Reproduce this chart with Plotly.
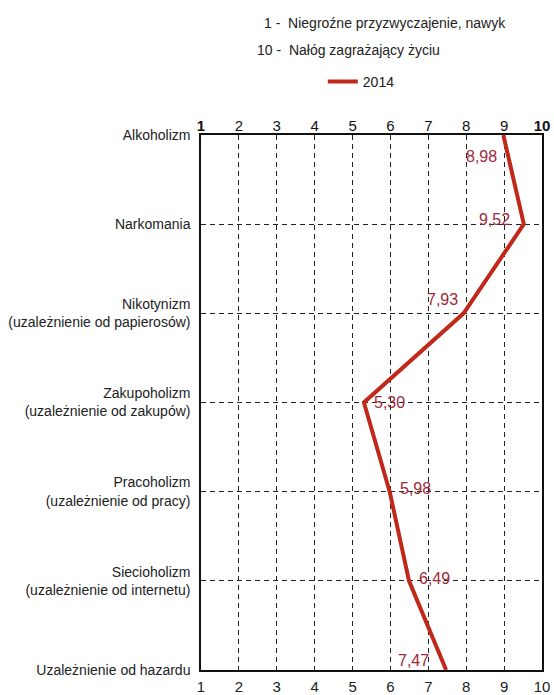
import plotly.graph_objects as go

categories = [
    "Alkoholizm",
    "Narkomania",
    "Nikotynizm<br>(uzależnienie od papierosów)",
    "Zakupoholizm<br>(uzależnienie od zakupów)",
    "Pracoholizm<br>(uzależnienie od pracy)",
    "Siecioholizm<br>(uzależnienie od internetu)",
    "Uzależnienie od hazardu",
]
values_2014 = [8.98, 9.52, 7.93, 5.30, 5.98, 6.49, 7.47]
value_labels = ["8,98", "9,52", "7,93", "5,30", "5,98", "6,49", "7,47"]
x_ticks = [1, 2, 3, 4, 5, 6, 7, 8, 9, 10]
x_ticktext_top = ["<b>1</b>", "2", "3", "4", "5", "6", "7", "8", "9", "<b>10</b>"]
series_name = "2014"
header_lines = ["1 -  Niegroźne przyzwyczajenie, nawyk", "10 -  Nałóg zagrażający życiu"]

# label offsets in pixels (dx, dy with dy positive = down)
label_offsets = [(-22, 21), (-29, -5), (-21, -14), (26, 0), (26, -3), (25, -2), (-33, -10)]

FONT = "Liberation Sans, Arial, sans-serif"
LINE_COLOR = "#c0281a"
LABEL_COLOR = "#9b2a3a"

y_idx = list(range(len(categories)))

fig = go.Figure()
fig.add_trace(go.Scatter(
    x=values_2014, y=y_idx, mode="lines", name=series_name,
    line=dict(color=LINE_COLOR, width=4),
    showlegend=True,
))

annotations = []
for v, i, t, (dx, dy) in zip(values_2014, y_idx, value_labels, label_offsets):
    annotations.append(dict(
        x=v, y=i, xref="x", yref="y", text=t, showarrow=False,
        xshift=dx, yshift=-dy, font=dict(family=FONT, size=16, color=LABEL_COLOR),
    ))

W, H = 554, 695
ml, mr, mt, mb = 201, 11.5, 135, 25
pw, ph = W - ml - mr, H - mt - mb

annotations.append(dict(
    x=(262 - ml) / pw, y=1 + (135 - 23) / ph, xref="paper", yref="paper",
    xanchor="left", yanchor="middle", text=header_lines[0], showarrow=False,
    font=dict(family=FONT, size=14, color="#222222"),
))
annotations.append(dict(
    x=(255 - ml) / pw, y=1 + (135 - 50) / ph, xref="paper", yref="paper",
    xanchor="left", yanchor="middle", text=header_lines[1], showarrow=False,
    font=dict(family=FONT, size=14, color="#222222"),
))

fig.update_layout(
    width=W, height=H,
    margin=dict(l=ml, r=mr, t=mt, b=mb, pad=0, autoexpand=False),
    paper_bgcolor="white", plot_bgcolor="white",
    font=dict(family=FONT, size=14, color="#222222"),
    annotations=annotations,
    showlegend=True,
    legend=dict(
        orientation="h", x=(323 - ml) / pw, y=1 + (135 - 82) / ph,
        xanchor="left", yanchor="middle",
        font=dict(family=FONT, size=14, color="#222222"),
        bgcolor="rgba(0,0,0,0)",
    ),
    xaxis=dict(
        range=[1, 10], tickvals=x_ticks, ticktext=[str(t) for t in x_ticks],
        showgrid=True, gridcolor="#222222", gridwidth=1, griddash="5px,4px",
        showline=True, linecolor="#111111", linewidth=1.5, mirror=True,
        zeroline=False, ticks="", ticklabelstandoff=2, automargin=False,
        tickfont=dict(family=FONT, size=15),
    ),
    xaxis2=dict(
        range=[1, 10], tickvals=x_ticks, ticktext=x_ticktext_top,
        overlaying="x", side="top", showgrid=False, zeroline=False,
        ticks="", automargin=False, tickfont=dict(family=FONT, size=15, color="#111111"),
    ),
    yaxis=dict(
        range=[6, 0], tickvals=y_idx, ticktext=categories,
        showgrid=True, gridcolor="#222222", gridwidth=1, griddash="5px,4px",
        showline=True, linecolor="#111111", linewidth=1.5, mirror=True,
        zeroline=False, ticks="", ticklabelstandoff=6, automargin=False,
        tickfont=dict(family=FONT, size=14),
    ),
)

fig.add_trace(go.Scatter(x=[None], y=[None], xaxis="x2", showlegend=False, hoverinfo="skip"))

fig.write_html("out.html")
